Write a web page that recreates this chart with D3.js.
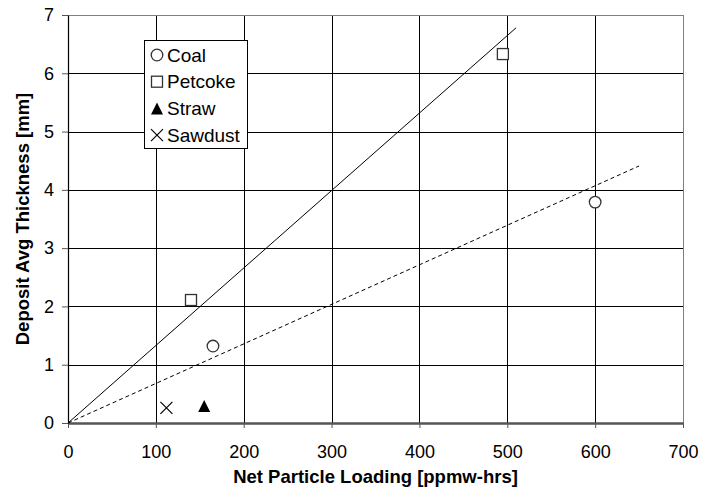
<!DOCTYPE html>
<html><head><meta charset="utf-8">
<script src="https://cdn.jsdelivr.net/npm/d3@7"></script>
<style>body{margin:0;background:#fff}svg{display:block}text{font-family:"Liberation Sans",Arial,sans-serif}</style>
</head><body><svg id="c" width="714" height="491"></svg>
<script>
const xTicks = [0,100,200,300,400,500,600,700];
const yTicks = [0,1,2,3,4,5,6,7];
const coal = [[165,1.32],[600,3.79]];
const petcoke = [[140,2.11],[495,6.33]];
const straw = [[155,0.29]];
const sawdust = [[112,0.26]];
const petcokeFit = [[0,0],[510,6.78]];
const coalFit = [[0,0],[650,4.41]];
const legendLabels = ["Coal","Petcoke","Straw","Sawdust"];
const xTitle = "Net Particle Loading [ppmw-hrs]";
const yTitle = "Deposit Avg Thickness [mm]";

const W=714,H=491,m={l:68,r:31,t:15,b:68};
const svg=d3.select("#c");
const x=d3.scaleLinear().domain([0,700]).range([m.l,W-m.r]);
const y=d3.scaleLinear().domain([0,7]).range([H-m.b,m.t]);

const g=svg.append("g");
// grid
g.selectAll(".vg").data(xTicks.slice(1,-1)).enter().append("line")
 .attr("x1",d=>Math.round(x(d))+0.5).attr("x2",d=>Math.round(x(d))+0.5)
 .attr("y1",y(7)).attr("y2",y(0)).attr("stroke","#000").attr("stroke-width",1);
g.selectAll(".hg").data(yTicks.slice(1,-1)).enter().append("line")
 .attr("y1",d=>Math.round(y(d))+0.5).attr("y2",d=>Math.round(y(d))+0.5)
 .attr("x1",x(0)).attr("x2",x(700)).attr("stroke","#000").attr("stroke-width",1);
// border top/right
g.append("line").attr("x1",x(0)).attr("x2",x(700)).attr("y1",Math.round(y(7))+0.5).attr("y2",Math.round(y(7))+0.5).attr("stroke","#808080");
g.append("line").attr("x1",Math.round(x(700))+0.5).attr("x2",Math.round(x(700))+0.5).attr("y1",y(7)).attr("y2",y(0)).attr("stroke","#808080");

// axes
const xa=d3.axisBottom(x).tickValues(xTicks).tickSize(5).tickSizeOuter(0).tickPadding(17);
const ya=d3.axisLeft(y).tickValues(yTicks).tickFormat(d3.format("d")).tickSize(6).tickSizeOuter(0).tickPadding(8);
const gx=svg.append("g").attr("transform",`translate(0,${y(0)})`).call(xa);
const gy=svg.append("g").attr("transform",`translate(${x(0)},0)`).call(ya);
gx.select(".domain").attr("stroke","#555").attr("stroke-width",2.5);
gy.select(".domain").attr("stroke","#000").attr("stroke-width",1.2);
gx.selectAll(".tick line").attr("stroke","#555");
gy.selectAll(".tick line").attr("stroke","#555");
[gx,gy].forEach(a=>a.selectAll("text").attr("font-size",18).attr("fill","#000").style("font-family","Liberation Sans, Arial, sans-serif"));

// fits
const line=d3.line().x(d=>x(d[0])).y(d=>y(d[1]));
svg.append("path").attr("d",line(petcokeFit)).attr("fill","none").attr("stroke","#000").attr("stroke-width",1);
svg.append("path").attr("d",line(coalFit)).attr("fill","none").attr("stroke","#000").attr("stroke-width",1).attr("stroke-dasharray","4,3");

// markers
const mk={
 circle:(s,cx,cy)=>s.append("circle").attr("cx",cx).attr("cy",cy).attr("r",5.8).attr("fill","#fff").attr("stroke","#333").attr("stroke-width",1.3),
 square:(s,cx,cy)=>s.append("rect").attr("x",cx-5.5).attr("y",cy-5.5).attr("width",11).attr("height",11).attr("fill","#fff").attr("stroke","#333").attr("stroke-width",1.3),
 tri:(s,cx,cy)=>s.append("path").attr("d",`M${cx},${cy-6}L${cx+6},${cy+6}L${cx-6},${cy+6}Z`).attr("fill","#000"),
 cross:(s,cx,cy)=>s.append("path").attr("d",`M${cx-6},${cy-6}L${cx+6},${cy+6}M${cx+6},${cy-6}L${cx-6},${cy+6}`).attr("stroke","#000").attr("stroke-width",1.2).attr("fill","none")
};
const series=[[coal,"circle"],[petcoke,"square"],[straw,"tri"],[sawdust,"cross"]];
series.forEach(([data,t])=>data.forEach(d=>mk[t](svg,x(d[0]),y(d[1]))));

// legend
const lg=svg.append("g");
lg.append("rect").attr("x",144.5).attr("y",40.5).attr("width",103).attr("height",108).attr("fill","#fff").attr("stroke","#000").attr("stroke-width",1);
legendLabels.forEach((lab,i)=>{
 const cy=55+i*26.7;
 mk[series[i][1]](lg,157,cy);
 lg.append("text").attr("x",167).attr("y",cy).attr("dy","0.35em").attr("font-size",19).text(lab);
});

// titles
svg.append("text").attr("x",(x(0)+x(700))/2).attr("y",483).attr("text-anchor","middle").attr("font-size",18.5).attr("font-weight","bold").text(xTitle);
svg.append("text").attr("transform",`translate(29,${(y(0)+y(7))/2}) rotate(-90)`).attr("text-anchor","middle").attr("font-size",18.5).attr("font-weight","bold").text(yTitle);
</script></body></html>
